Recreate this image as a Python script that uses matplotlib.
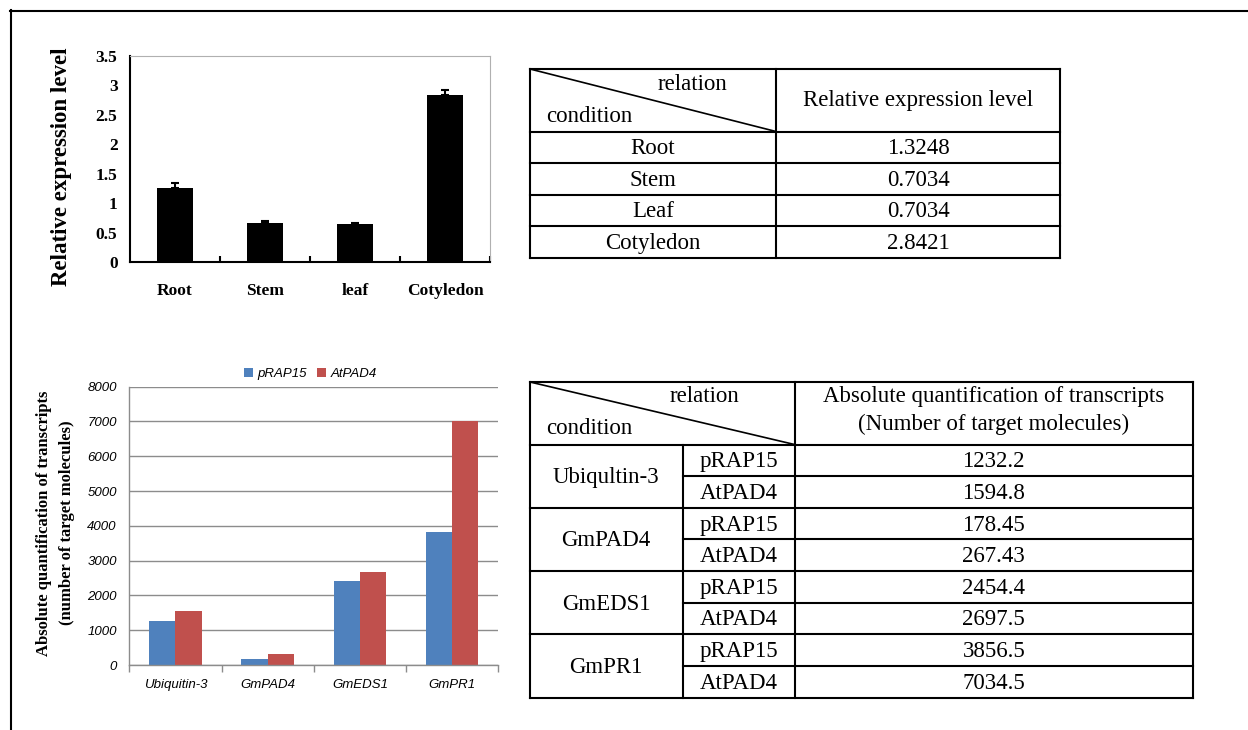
import matplotlib.pyplot as plt
import numpy as np

# ---- data ----
tissues = ["Root", "Stem", "leaf", "Cotyledon"]
rel_expr = [1.26, 0.66, 0.64, 2.83]
rel_err = [0.085, 0.03, 0.03, 0.09]

genes = ["Ubiquitin-3", "GmPAD4", "GmEDS1", "GmPR1"]
prap15 = [1265, 163, 2423, 3832]
atpad4 = [1552, 307, 2673, 7022]

table1_rows = ["Root", "Stem", "Leaf", "Cotyledon"]
table1_vals = ["1.3248", "0.7034", "0.7034", "2.8421"]

table2_genes = ["Ubiqultin-3", "GmPAD4", "GmEDS1", "GmPR1"]
table2_constructs = ["pRAP15", "AtPAD4"]
table2_vals = ["1232.2", "1594.8", "178.45", "267.43",
               "2454.4", "2697.5", "3856.5", "7034.5"]

W, H = 1248, 730
SERIF = "Liberation Serif"
SANS = "Liberation Sans"
BLUE = "#4F81BD"
RED = "#C0504D"


def fig_rect(x0, y0, x1, y1):
    # pixel box (top-left origin) -> figure fraction rect
    return [x0 / W, 1 - y1 / H, (x1 - x0) / W, (y1 - y0) / H]


fig = plt.figure(figsize=(W / 100, H / 100), dpi=100)

# ---- overlay for frame and tables ----
ov = fig.add_axes([0, 0, 1, 1])
ov.set_xlim(0, W)
ov.set_ylim(H, 0)
ov.axis("off")

lw = 1.5
ov.plot([10, W], [10.5, 10.5], color="black", lw=lw)
ov.plot([10.5, 10.5], [10, H], color="black", lw=lw)


def hline(x0, x1, y):
    ov.plot([x0, x1], [y, y], color="black", lw=lw, solid_capstyle="projecting")


def vline(x, y0, y1):
    ov.plot([x, x], [y0, y1], color="black", lw=lw, solid_capstyle="projecting")


def txt(x, y, s, size=16.5):
    ov.text(x, y + 1.5, s, ha="center", va="center", fontsize=size, family=SERIF)


# table 1
t1_left, t1_div, t1_right = 530, 776, 1060
t1_top, t1_head = 69, 131.5
t1_rows = [131.5, 163, 194.5, 226, 257.5]
hline(t1_left, t1_right, t1_top)
for y in t1_rows:
    hline(t1_left, t1_right, y)
vline(t1_left, t1_top, t1_rows[-1])
vline(t1_div, t1_top, t1_rows[-1])
vline(t1_right, t1_top, t1_rows[-1])
ov.plot([t1_left, t1_div], [t1_top, t1_head], color="black", lw=1.2)
txt(692, 83, "relation")
txt(589, 115, "condition")
txt(918, 99, "Relative expression level")
for i, (name, val) in enumerate(zip(table1_rows, table1_vals)):
    yc = (t1_rows[i] + t1_rows[i + 1]) / 2
    txt((t1_left + t1_div) / 2, yc, name)
    txt((t1_div + t1_right) / 2, yc, val)

# table 2
t2_left, t2_div1, t2_div2, t2_right = 530, 682.5, 794.5, 1193
t2_top, t2_head = 382, 444.5
t2_rows = np.linspace(444.5, 697.5, 9)
hline(t2_left, t2_right, t2_top)
for k, y in enumerate(t2_rows):
    if k % 2 == 0:
        hline(t2_left, t2_right, y)
    else:
        hline(t2_div1, t2_right, y)
vline(t2_left, t2_top, t2_rows[-1])
vline(t2_div1, t2_head, t2_rows[-1])
vline(t2_div2, t2_top, t2_rows[-1])
vline(t2_right, t2_top, t2_rows[-1])
ov.plot([t2_left, t2_div2], [t2_top, t2_head], color="black", lw=1.2)
txt(704, 395, "relation")
txt(589, 427, "condition")
txt(993.5, 395, "Absolute quantification of transcripts")
txt(993.5, 423, "(Number of target molecules)")
for g, gene in enumerate(table2_genes):
    yc = t2_rows[2 * g + 1]
    txt((t2_left + t2_div1) / 2, yc, gene)
for r, val in enumerate(table2_vals):
    yc = (t2_rows[r] + t2_rows[r + 1]) / 2
    txt((t2_div1 + t2_div2) / 2, yc, table2_constructs[r % 2])
    txt((t2_div2 + t2_right) / 2, yc, val)

# ---- top chart: relative expression ----
ax = fig.add_axes(fig_rect(130, 55.7, 490, 262))
x = np.arange(len(tissues))
ax.bar(x, rel_expr, width=0.41, color="black", zorder=2)
ax.errorbar(x, rel_expr, yerr=[np.zeros(len(rel_err)), rel_err], fmt="none",
            ecolor="black", elinewidth=1.5, capsize=3, capthick=1.5, zorder=3)
ax.set_xlim(-0.5, len(tissues) - 0.5)
ax.set_ylim(0, 3.5)
ax.set_yticks(np.arange(0, 3.51, 0.5))
ax.set_yticklabels(["0", "0.5", "1", "1.5", "2", "2.5", "3", "3.5"])
ax.set_xticks(x)
ax.set_xticklabels(tissues)
ax.set_xticks(np.arange(0.5, len(tissues)), minor=True)
ax.tick_params(axis="x", which="major", length=0, pad=15)
ax.tick_params(axis="x", which="minor", direction="in", length=4, width=1.5)
ax.tick_params(axis="y", length=0, pad=9)
for lab in ax.get_xticklabels() + ax.get_yticklabels():
    lab.set_fontfamily(SERIF)
    lab.set_fontweight("bold")
    lab.set_fontsize(12.5)
for side in ("left", "bottom"):
    ax.spines[side].set_linewidth(1.5)
for side in ("top", "right"):
    ax.spines[side].set_color("#b0b0b0")
    ax.spines[side].set_linewidth(0.8)
fig.text(62 / W, 1 - 167 / H, "Relative expression level", rotation=90,
         ha="center", va="center", fontsize=16.5, fontweight="bold", family=SERIF)

# ---- bottom chart: absolute quantification ----
ax2 = fig.add_axes(fig_rect(129.3, 386.7, 498.3, 665))
xg = np.arange(len(genes))
bw = 0.285
ax2.bar(xg - bw / 2, prap15, width=bw, color=BLUE, label="pRAP15", zorder=2)
ax2.bar(xg + bw / 2, atpad4, width=bw, color=RED, label="AtPAD4", zorder=2)
ax2.set_xlim(-0.5, len(genes) - 0.5)
ax2.set_ylim(0, 8000)
ax2.set_yticks(np.arange(0, 8001, 1000))
ax2.yaxis.grid(True, color="#8c8c8c", linewidth=1.0, zorder=0)
ax2.set_axisbelow(True)
ax2.set_xticks(xg)
ax2.set_xticklabels(genes)
ax2.set_xticks(np.arange(-0.5, len(genes)), minor=True)
ax2.tick_params(axis="x", which="major", length=0, pad=10)
ax2.tick_params(axis="x", which="minor", direction="out", length=5,
                color="#8c8c8c", width=1.0)
ax2.tick_params(axis="y", length=0, pad=9)
for lab in ax2.get_xticklabels():
    lab.set_fontfamily(SANS)
    lab.set_fontstyle("italic")
    lab.set_fontsize(9.5)
for lab in ax2.get_yticklabels():
    lab.set_fontfamily(SANS)
    lab.set_fontstyle("italic")
    lab.set_fontsize(9.5)
for side in ("top", "right"):
    ax2.spines[side].set_visible(False)
for side in ("left", "bottom"):
    ax2.spines[side].set_color("#8c8c8c")
    ax2.spines[side].set_linewidth(1.0)
ax2.legend(loc="lower center", bbox_to_anchor=(0.49, 0.995), ncol=2,
           frameon=False, handlelength=0.7, handleheight=0.7,
           handletextpad=0.3, columnspacing=0.8, borderaxespad=0.2,
           prop={"family": SANS, "style": "italic", "size": 9.5})
fig.text(44 / W, 1 - 523 / H, "Absolute quantification of transcripts",
         rotation=90, ha="center", va="center", fontsize=12,
         fontweight="bold", family=SERIF)
fig.text(67 / W, 1 - 523 / H, "(number of target molecules)",
         rotation=90, ha="center", va="center", fontsize=12,
         fontweight="bold", family=SERIF)

fig.savefig("out.png", dpi=100)
